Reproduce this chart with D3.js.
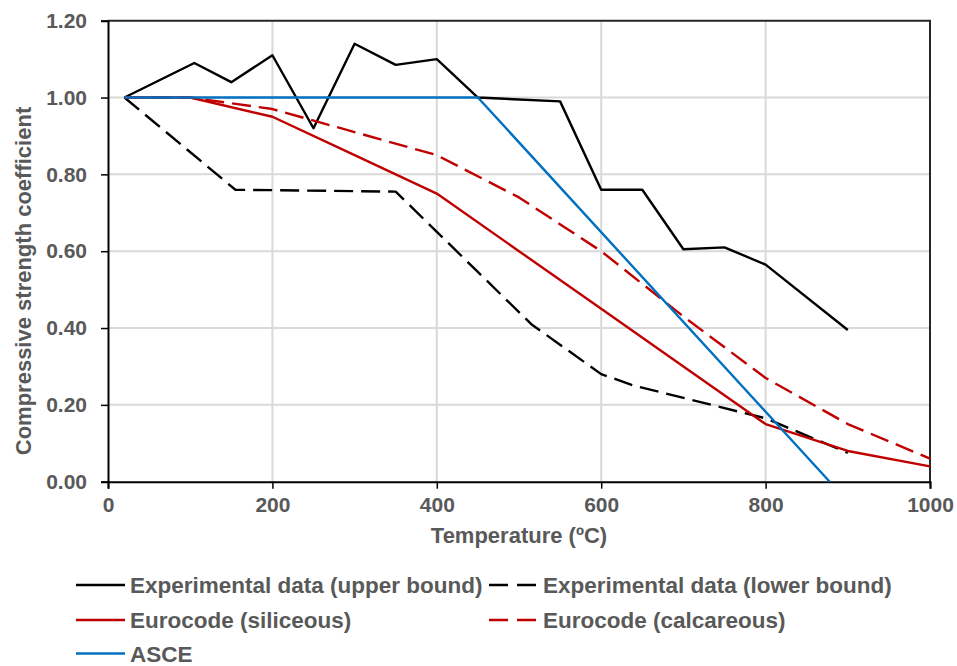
<!DOCTYPE html>
<html>
<head>
<meta charset="utf-8">
<script src="https://cdn.jsdelivr.net/npm/d3@7"></script>
<style>
  body { margin: 0; background: #fff; }
  svg text { font-family: "Liberation Sans", Arial, sans-serif; font-weight: bold; fill: #595959; }
</style>
</head>
<body>
<script>
// temperature (ºC) and compressive strength coefficient
var upperT = [20, 105, 150, 200, 250, 300, 350, 400, 450, 550, 600, 650, 700, 750, 800, 900];
var upperF = [1.00, 1.09, 1.04, 1.11, 0.92, 1.14, 1.085, 1.10, 1.00, 0.99, 0.76, 0.76, 0.605, 0.61, 0.565, 0.395];

var lowerT = [20, 155, 350, 515, 600, 640, 800, 900];
var lowerF = [1.00, 0.76, 0.755, 0.41, 0.28, 0.25, 0.165, 0.075];

var euroT = [20, 100, 200, 300, 400, 500, 600, 700, 800, 900, 1000];
var siliceousF = [1.00, 1.00, 0.95, 0.85, 0.75, 0.60, 0.45, 0.30, 0.15, 0.08, 0.04];
var calcareousF = [1.00, 1.00, 0.97, 0.91, 0.85, 0.74, 0.60, 0.43, 0.27, 0.15, 0.06];

var asceT = [20, 450, 878];
var asceF = [1.00, 1.00, 0.00];

var xTicks = [0, 200, 400, 600, 800, 1000];
var yTicks = [0, 0.2, 0.4, 0.6, 0.8, 1.0, 1.2];

var series = [
  { name: "Experimental data (upper bound)", t: upperT, f: upperF, color: "#000000", dash: null },
  { name: "Experimental data (lower bound)", t: lowerT, f: lowerF, color: "#000000", dash: "19,8" },
  { name: "Eurocode (siliceous)", t: euroT, f: siliceousF, color: "#C00000", dash: null },
  { name: "Eurocode (calcareous)", t: euroT, f: calcareousF, color: "#C00000", dash: "19,8" },
  { name: "ASCE", t: asceT, f: asceF, color: "#0070C0", dash: null }
];

var width = 957, height = 666;
var margin = { top: 20.7, right: 27, bottom: 184.3, left: 108 };

var svg = d3.select("body").append("svg")
  .attr("width", width)
  .attr("height", height);

var x = d3.scaleLinear().domain([0, 1000]).range([margin.left, width - margin.right]);
var y = d3.scaleLinear().domain([0, 1.2]).range([height - margin.bottom, margin.top]);

// grid
svg.append("g").selectAll("line")
  .data(xTicks.slice(1, -1))
  .enter().append("line")
  .attr("x1", d => x(d)).attr("x2", d => x(d))
  .attr("y1", y(0)).attr("y2", y(1.2))
  .attr("stroke", "#d9d9d9").attr("stroke-width", 2);

svg.append("g").selectAll("line")
  .data(yTicks.slice(1, -1))
  .enter().append("line")
  .attr("x1", x(0)).attr("x2", x(1000))
  .attr("y1", d => y(d)).attr("y2", d => y(d))
  .attr("stroke", "#d9d9d9").attr("stroke-width", 2);

// frame top / right
svg.append("path")
  .attr("d", "M" + x(0) + "," + y(1.2) + "H" + x(1000) + "V" + y(0))
  .attr("fill", "none").attr("stroke", "#262626").attr("stroke-width", 2);

// axes
var xAxis = svg.append("g")
  .attr("transform", "translate(0," + y(0) + ")")
  .call(d3.axisBottom(x).tickValues(xTicks).tickSize(7).tickPadding(8).tickFormat(d3.format("d")));

var yAxis = svg.append("g")
  .attr("transform", "translate(" + x(0) + ",0)")
  .call(d3.axisLeft(y).tickValues(yTicks).tickSize(7).tickPadding(14).tickFormat(d3.format(".2f")));

[xAxis, yAxis].forEach(function(a) {
  a.select(".domain").attr("stroke", "#000").attr("stroke-width", 2);
  a.selectAll(".tick line").attr("stroke", "#000").attr("stroke-width", 1.5);
  a.selectAll(".tick text").style("font-size", "21px").attr("fill", "#595959");
});

// lines
var line = d3.line()
  .x(d => x(d[0]))
  .y(d => y(d[1]));

series.forEach(function(s) {
  svg.append("path")
    .datum(d3.zip(s.t, s.f))
    .attr("d", line)
    .attr("fill", "none")
    .attr("stroke", s.color)
    .attr("stroke-width", 2.4)
    .attr("stroke-linejoin", "round")
    .attr("stroke-dasharray", s.dash);
});

// axis titles
svg.append("text")
  .attr("x", (x(0) + x(1000)) / 2)
  .attr("y", 543)
  .attr("text-anchor", "middle")
  .style("font-size", "22px")
  .text("Temperature (ºC)");

svg.append("text")
  .attr("transform", "translate(31,281) rotate(-90)")
  .attr("text-anchor", "middle")
  .style("font-size", "22px")
  .text("Compressive strength coefficient");

// legend
var legendPos = [[76, 585], [489, 585], [76, 620], [489, 620], [76, 653.5]];
series.forEach(function(s, i) {
  var g = svg.append("g")
    .attr("transform", "translate(" + legendPos[i][0] + "," + legendPos[i][1] + ")");
  g.append("line")
    .attr("x1", 0).attr("x2", 49)
    .attr("stroke", s.color)
    .attr("stroke-width", 2.4)
    .attr("stroke-dasharray", s.dash ? "19,9" : null);
  g.append("text")
    .attr("x", 54)
    .attr("dy", "0.36em")
    .style("font-size", "22.5px")
    .text(s.name);
});
</script>
</body>
</html>
